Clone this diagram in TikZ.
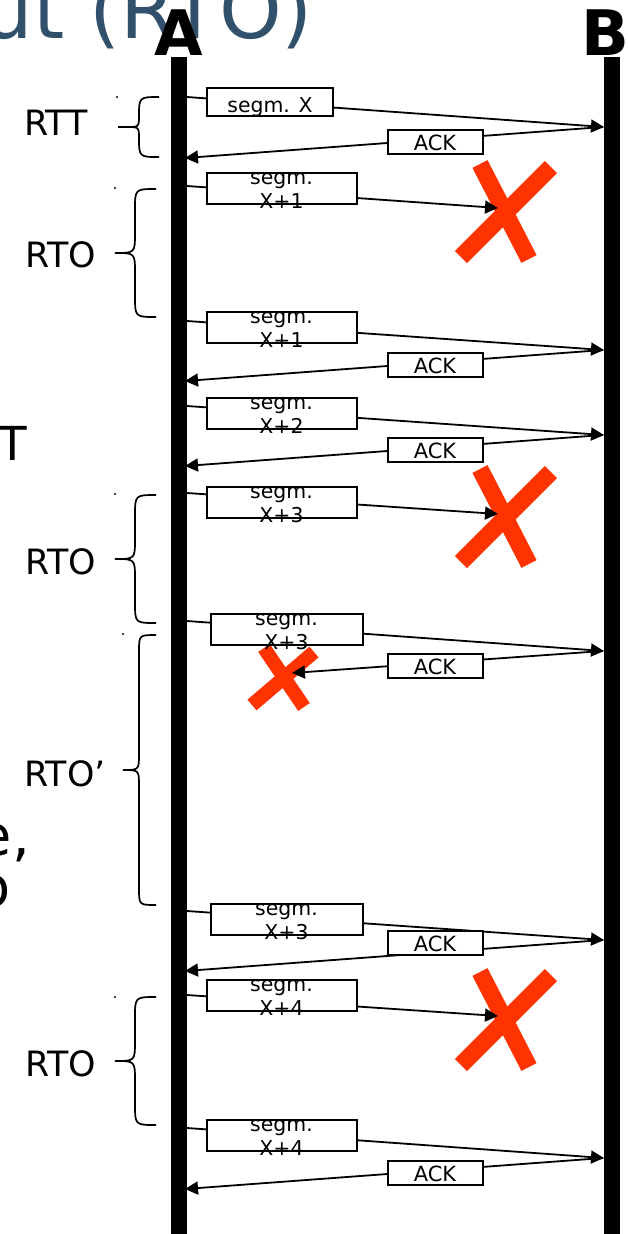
\documentclass[tikz,border=0pt]{standalone}
\usepackage{fontspec}
\setmainfont{DejaVu Sans}
\usetikzlibrary{arrows.meta}

\definecolor{titleblue}{RGB}{48,80,108}
\definecolor{lossred}{RGB}{255,51,0}

\tikzset{
  life/.style={line width=16bp},
  msg/.style={line width=1.8bp,-{Triangle[length=13bp,width=13bp]}},
  lost/.style={lossred,line width=17bp},
  lostsmall/.style={lossred,line width=14bp},
  bracel/.style={line width=1.7bp},
  segbox/.style={draw,line width=2bp,fill=white,inner sep=0pt,minimum width=150bp,minimum height=31bp},
  ackbox/.style={draw,line width=2bp,fill=white,inner sep=0pt,minimum width=95bp,minimum height=24bp,
    text height=18.4bp,text depth=0pt,font=\fontsize{21}{24}\selectfont},
  segone/.style={draw,line width=2bp,fill=white,inner sep=0pt,minimum width=126bp,minimum height=28bp,
    text height=20bp,text depth=0pt,font=\fontsize{20.5}{24}\selectfont},
  seglbl/.style={align=center,inner sep=0pt,yshift=-2.4bp,font=\fontsize{20.5}{24}\selectfont},
  side/.style={inner sep=0pt,font=\fontsize{35}{40}\selectfont},
  host/.style={inner sep=0pt,font=\fontsize{63}{70}\selectfont\bfseries},
}

% 左花括号: 端点x, 竖线x, 尖端x, 上, 下
\newcommand{\tbrace}[5]{%
  \draw[bracel] (#1,#4) .. controls (#2,#4) .. (#2,{#4+#1-#2})
    -- (#2,{(#4+#5)/2-#2+#3}) .. controls (#2,{(#4+#5)/2}) .. (#3,{(#4+#5)/2})
    .. controls (#2,{(#4+#5)/2}) .. (#2,{(#4+#5)/2+#2-#3})
    -- (#2,{#5-#1+#2}) .. controls (#2,#5) .. (#1,#5);}

\begin{document}
\begin{tikzpicture}[x=1bp,y=-1bp]
  \useasboundingbox (0,0) rectangle (628,1234);
  \clip (0,0) rectangle (628,1234);

  % 标题和左边被裁掉的文字
  \node[inner sep=0pt,anchor=base east,text=titleblue,font=\fontsize{80}{90}\selectfont] (ttl) at (313,38) {ut (RTO)};
  \node[inner sep=0pt,anchor=base east,font=\fontsize{47}{52}\selectfont] (cut1) at (27,460) {T};
  \node[inner sep=0pt,anchor=base east,font=\fontsize{56}{60}\selectfont] (cut2) at (30,855) {e,};
  \node[inner sep=0pt,anchor=base east,font=\fontsize{56}{60}\selectfont] (cut3) at (11,906) {o};

  % 主机
  \node[host,anchor=base] (A) at (179,55) {A};
  \node[host,anchor=base] (B) at (605,55) {B};
  \coordinate (Atop) at (179,57);
  \coordinate (Abot) at (179,1234);
  \coordinate (Btop) at (611.5,57);
  \coordinate (Bbot) at (611.5,1234);
  \draw[life] (Atop) -- (Abot);
  \draw[life] (Btop) -- (Bbot);

  % 丢失
  \draw[lost,shift={(505,213)}] (-44,44) -- (46,-46) (-25,-49) -- (24,46);
  \draw[lost,shift={(505,518)}] (-44,44) -- (46,-46) (-25,-49) -- (24,46);
  \draw[lost,shift={(505,1021)}] (-44,44) -- (46,-46) (-25,-49) -- (24,46);
  \draw[lostsmall,shift={(284,678)}] (-32,27) -- (30,-26) (-20,-30) -- (20,29);

  % 报文端点
  \coordinate (s1a) at (187,97);   \coordinate (s1b) at (604,127);
  \coordinate (k1b) at (603,127);  \coordinate (k1a) at (185,158);
  \coordinate (s2a) at (187,186);  \coordinate (s2b) at (498,208);
  \coordinate (s3a) at (187,321);  \coordinate (s3b) at (604,350);
  \coordinate (k3b) at (603,350);  \coordinate (k3a) at (185,381);
  \coordinate (s4a) at (187,406);  \coordinate (s4b) at (604,435);
  \coordinate (k4b) at (603,435);  \coordinate (k4a) at (185,466);
  \coordinate (s5a) at (187,493);  \coordinate (s5b) at (498,514);
  \coordinate (s6a) at (187,621);  \coordinate (s6b) at (604,651);
  \coordinate (k6b) at (603,651);  \coordinate (k6a) at (292,673);
  \coordinate (s7a) at (187,911);  \coordinate (s7b) at (604,940);
  \coordinate (k7b) at (603,940);  \coordinate (k7a) at (185,971);
  \coordinate (s8a) at (187,995);  \coordinate (s8b) at (498,1016);
  \coordinate (s9a) at (187,1128); \coordinate (s9b) at (604,1158);
  \coordinate (k9b) at (603,1158); \coordinate (k9a) at (185,1189);

  \draw[msg] (s1a) -- (s1b);
  \draw[msg] (k1b) -- (k1a);
  \draw[msg] (s2a) -- (s2b);
  \draw[msg] (s3a) -- (s3b);
  \draw[msg] (k3b) -- (k3a);
  \draw[msg] (s4a) -- (s4b);
  \draw[msg] (k4b) -- (k4a);
  \draw[msg] (s5a) -- (s5b);
  \draw[msg] (s6a) -- (s6b);
  \draw[msg] (k6b) -- (k6a);
  \draw[msg] (s7a) -- (s7b);
  \draw[msg] (k7b) -- (k7a);
  \draw[msg] (s8a) -- (s8b);
  \draw[msg] (s9a) -- (s9b);
  \draw[msg] (k9b) -- (k9a);

  % 报文框
  \node[segone] (box1) at (270,102) {segm. X};
  \node[ackbox] (ack1) at (435,141.5) {ACK};
  \node[segbox] (box2) at (281.5,188) {};
  \node[seglbl] (txt2) at (box2) {segm.\\X+1};
  \node[segbox] (box3) at (281.5,327.5) {};
  \node[seglbl] (txt3) at (box3) {segm.\\X+1};
  \node[ackbox] (ack3) at (435,364.5) {ACK};
  \node[segbox] (box4) at (281.5,413) {};
  \node[seglbl] (txt4) at (box4) {segm.\\X+2};
  \node[ackbox] (ack4) at (435,449.5) {ACK};
  \node[segbox] (box5) at (281.5,502.5) {};
  \node[seglbl] (txt5) at (box5) {segm.\\X+3};
  \node[segbox,minimum width=152bp] (box6) at (286.5,629.5) {};
  \node[seglbl] (txt6) at (box6) {segm.\\X+3};
  \node[ackbox] (ack6) at (435,665.5) {ACK};
  \node[segbox,minimum width=152bp] (box7) at (286.5,919.5) {};
  \node[seglbl] (txt7) at (box7) {segm.\\X+3};
  \node[ackbox] (ack7) at (435,942.5) {ACK};
  \node[segbox] (box8) at (281.5,995.5) {};
  \node[seglbl] (txt8) at (box8) {segm.\\X+4};
  \node[segbox] (box9) at (281.5,1135.5) {};
  \node[seglbl] (txt9) at (box9) {segm.\\X+4};
  \node[ackbox] (ack9) at (435,1172.5) {ACK};

  % 花括号
  \tbrace{159}{139}{127}{97}{157}
  \draw[bracel] (127,127) -- (118,127);
  \tbrace{156}{135}{115}{189}{317}
  \tbrace{156}{135}{115}{495}{623}
  \tbrace{156}{139}{123}{635}{905}
  \tbrace{156}{135}{115}{997}{1125}
  \fill (117,97) circle (1.2);
  \fill (115,188) circle (1.2);
  \fill (115,494) circle (1.2);
  \fill (123,634) circle (1.2);
  \fill (115,997) circle (1.2);

  \node[side,anchor=base] (rtt) at (56,135) {RTT};
  \node[side,anchor=base] (rto1) at (61,267) {RTO};
  \node[side,anchor=base] (rto2) at (61,574) {RTO};
  \node[side,anchor=base] (rto3) at (65,786) {RTO’};
  \node[side,anchor=base] (rto4) at (61,1076) {RTO};
\end{tikzpicture}
\end{document}
